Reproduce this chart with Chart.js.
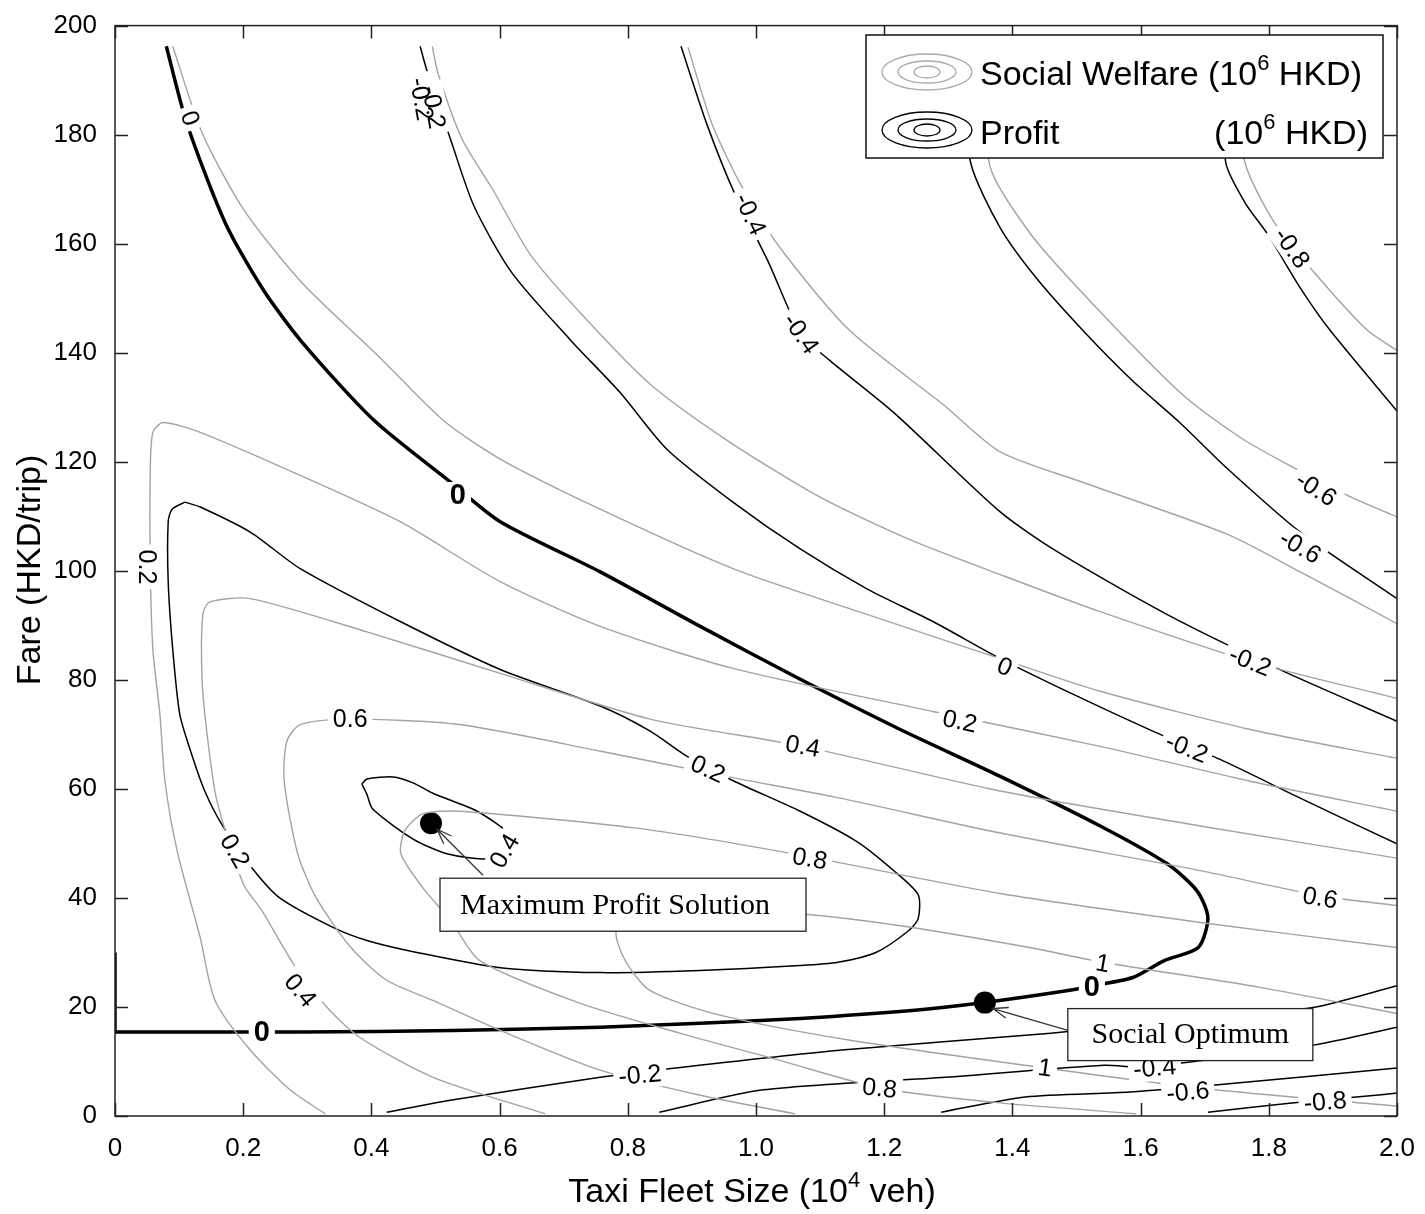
<!DOCTYPE html>
<html>
<head>
<meta charset="utf-8">
<script src="https://cdn.jsdelivr.net/npm/chart.js@4/dist/chart.umd.min.js"></script>
<style>
  body { margin: 0; background: #fff; }
  canvas { display: block; }
</style>
</head>
<body>
<canvas id="contourChart" width="1425" height="1214"></canvas>
<script>
// contour traces: [fleet size (10^4 veh), fare (HKD/trip)]

// profit contours (black)
const profitZero = [[0.080,196.2],[0.112,182.1],[0.172,163.8],[0.231,151.6],[0.292,141.9],[0.404,127.6],[0.523,116.3],[0.601,109.0],[0.757,99.8],[0.913,89.8],[1.069,80.1],[1.225,70.9],[1.381,62.3],[1.537,53.2],[1.641,46.3],[1.688,41.3],[1.705,36.4],[1.690,30.9],[1.637,28.5],[1.588,25.4],[1.526,23.9],[1.487,23.0],[1.356,20.8],[1.248,19.4],[1.069,17.9],[0.913,17.0],[0.757,16.3],[0.527,15.7],[0.289,15.4],[0.0,15.4]];
const profitZeroEdge = [[0.0,15.4],[0.0,30.0]];
const profitPos02 = [[0.109,112.6],[0.133,111.7],[0.211,107.1],[0.289,100.4],[0.445,90.7],[0.601,81.9],[0.757,75.2],[0.835,70.6],[0.892,66.0],[0.966,61.4],[1.069,55.9],[1.158,50.3],[1.217,44.8],[1.253,40.6],[1.253,36.2],[1.236,33.8],[1.187,30.0],[1.128,28.2],[1.069,27.6],[0.913,26.7],[0.757,26.3],[0.601,27.2],[0.471,30.0],[0.393,32.2],[0.340,34.6],[0.257,40.0],[0.215,45.3],[0.168,53.2],[0.140,59.6],[0.118,66.9],[0.101,73.7],[0.090,85.7],[0.083,98.0],[0.083,109.0],[0.089,111.3],[0.109,112.6]];
const profitPos04 = [[0.385,60.9],[0.393,61.8],[0.434,62.2],[0.465,61.1],[0.496,59.2],[0.565,55.9],[0.616,51.7],[0.624,49.5],[0.580,47.2],[0.518,48.1],[0.465,50.8],[0.402,56.3],[0.393,59.0],[0.385,60.9]];
const profitNeg02 = [[0.476,196.2],[0.488,191.2],[0.523,179.3],[0.560,166.9],[0.619,154.7],[0.710,142.4],[0.788,132.7],[0.861,122.3],[0.964,112.6],[1.069,104.0],[1.173,96.7],[1.276,90.7],[1.381,83.9],[1.501,77.0],[1.619,70.6],[1.724,65.4],[1.849,58.3],[2.0,49.9]];
const profitNeg04 = [[0.883,196.2],[0.924,181.7],[0.967,169.1],[1.019,156.7],[1.070,143.5],[1.115,138.6],[1.218,128.7],[1.381,110.8],[1.470,103.5],[1.641,92.0],[1.813,82.1],[2.0,72.4]];
const profitNeg06 = [[1.315,196.2],[1.335,174.8],[1.381,162.9],[1.438,153.6],[1.513,143.7],[1.587,134.9],[1.661,127.2],[1.733,119.0],[1.849,107.1],[2.0,94.9]];
const profitNeg08 = [[1.721,196.2],[1.733,174.8],[1.763,167.5],[1.799,161.6],[1.849,151.9],[1.895,144.2],[2.0,129.3]];
const profitLowNeg02 = [[0.424,0.7],[0.523,2.9],[0.757,7.1],[0.889,9.0],[1.134,12.1],[1.460,15.2],[1.705,18.1],[1.869,19.9],[2.0,23.9]];
const profitLowNeg04 = [[0.849,0.7],[1.011,4.8],[1.296,7.1],[1.543,9.3],[1.607,9.0],[1.869,13.0],[2.0,16.3]];
const profitLowNeg06 = [[1.289,0.7],[1.420,3.5],[1.583,4.4],[1.746,6.0],[2.0,8.8]];
const profitLowNeg08 = [[1.705,0.7],[1.836,2.4],[1.967,3.8],[2.0,4.2]];

// social welfare contours (gray)
const welfareZero = [[0.090,196.2],[0.136,180.3],[0.201,166.2],[0.292,152.8],[0.410,139.5],[0.512,127.6],[0.601,120.5],[0.757,111.3],[0.964,100.4],[1.173,92.0],[1.381,83.9],[1.537,77.9],[1.771,70.9],[2.0,65.6]];
const welfareNeg02 = [[0.495,196.2],[0.504,191.2],[0.541,179.3],[0.590,169.8],[0.649,157.8],[0.733,146.4],[0.835,134.2],[0.959,123.6],[1.100,113.5],[1.240,105.7],[1.381,99.3],[1.537,92.5],[1.771,83.4],[2.0,76.6]];
const welfareNeg04 = [[0.894,196.0],[0.931,182.1],[0.975,171.1],[1.034,159.8],[1.145,144.2],[1.292,130.5],[1.381,121.8],[1.513,116.1],[1.733,106.8],[1.849,99.8],[2.0,90.3]];
const welfareNeg06 = [[1.353,196.2],[1.365,174.2],[1.427,162.0],[1.513,150.5],[1.660,132.9],[1.755,124.5],[1.828,119.6],[1.925,113.7],[2.0,109.9]];
const welfareNeg08 = [[1.736,196.2],[1.763,174.8],[1.807,164.2],[1.874,154.3],[1.953,144.2],[2.0,140.4]];
const welfarePos02 = [[0.328,0.4],[0.273,4.8],[0.211,12.1],[0.156,21.2],[0.133,32.7],[0.097,48.6],[0.078,61.4],[0.070,73.7],[0.059,85.7],[0.055,101.6],[0.055,118.1],[0.059,125.4],[0.075,127.2],[0.133,125.4],[0.289,117.5],[0.445,109.0],[0.601,98.0],[0.757,89.8],[0.964,82.1],[1.276,74.2],[1.537,67.8],[1.771,61.4],[2.0,55.9]];
const welfarePos04 = [[0.671,0.4],[0.496,7.1],[0.382,14.4],[0.331,19.9],[0.278,28.0],[0.229,37.7],[0.200,42.6],[0.159,57.8],[0.145,68.7],[0.136,79.7],[0.137,92.0],[0.148,94.3],[0.211,94.9],[0.393,88.8],[0.601,81.2],[0.835,72.8],[1.073,67.8],[1.381,59.6],[1.693,53.2],[2.0,47.3]];
const welfarePos06 = [[1.061,0.4],[0.913,3.8],[0.757,8.4],[0.601,15.7],[0.496,21.2],[0.424,24.9],[0.368,30.9],[0.314,40.0],[0.285,48.1],[0.264,61.4],[0.268,68.7],[0.289,71.8],[0.363,72.8],[0.537,71.8],[0.758,66.9],[0.953,62.3],[1.131,58.3],[1.381,51.9],[1.693,45.0],[1.880,40.4],[2.0,38.6]];
const welfarePos08 = [[1.593,0.4],[1.381,2.4],[1.195,5.1],[1.037,10.2],[0.881,15.2],[0.725,20.7],[0.569,28.5],[0.524,35.8],[0.480,41.9],[0.446,48.1],[0.452,52.3],[0.480,55.4],[0.537,55.9],[0.814,52.8],[1.048,48.3],[1.381,40.8],[1.693,35.5],[2.0,30.9]];
const welfarePos10 = [[2.0,18.8],[1.786,23.6],[1.541,28.2],[1.427,30.9],[1.225,34.9],[1.069,37.1],[0.913,38.0],[0.819,36.9],[0.782,34.0],[0.796,28.5],[0.835,23.0],[0.944,18.5],[1.147,13.9],[1.451,8.8],[1.693,5.1],[2.0,1.8]];

// marked solutions
const maxProfitPoint = [[0.493,53.7]];
const socialOptimumPoint = [[1.357,20.8]];

// contour labels: [text, x, y, angle in degrees, bold]
const contourLabels = [
  ['0', 0.117, 183.0, 70, false],
  ['-0.2', 0.478, 186.5, 80, false],
  ['-0.2', 0.497, 185.0, 80, false],
  ['-0.4', 0.991, 165.4, 65, false],
  ['-0.4', 1.070, 143.5, 55, false],
  ['-0.8', 1.836, 159.2, 55, false],
  ['-0.6', 1.874, 115.0, 33, false],
  ['-0.6', 1.849, 104.4, 30, false],
  ['-0.2', 1.771, 83.4, 22, false],
  ['-0.2', 1.672, 67.5, 22, false],
  ['0', 1.388, 82.4, 22, false],
  ['0.2', 1.318, 72.4, 12, false],
  ['0.4', 1.073, 67.8, 10, false],
  ['0.2', 0.925, 63.6, 25, false],
  ['0.6', 0.367, 72.8, 0, false],
  ['0.8', 1.084, 47.2, 10, false],
  ['0.6', 1.880, 40.0, 10, false],
  ['1', 1.541, 28.0, 10, false],
  ['1', 1.451, 8.8, 8, false],
  ['0.2', 0.050, 100.7, 90, false],
  ['0.2', 0.187, 48.6, 60, false],
  ['0.4', 0.289, 23.0, 50, false],
  ['0.4', 0.608, 48.6, -60, false],
  ['0.8', 1.193, 5.1, 6, false],
  ['-0.2', 0.819, 7.5, -5, false],
  ['-0.4', 1.622, 8.8, -5, false],
  ['-0.6', 1.674, 4.4, -5, false],
  ['-0.8', 1.888, 2.6, -5, false],
  ['0', 0.535, 113.9, 0, true],
  ['0', 0.229, 15.4, 0, true],
  ['0', 1.524, 23.6, 0, true]
];

const xTicks = [0, 0.2, 0.4, 0.6, 0.8, 1.0, 1.2, 1.4, 1.6, 1.8, 2.0];
const yTicks = [0, 20, 40, 60, 80, 100, 120, 140, 160, 180, 200];

const SANS = '"Liberation Sans", Arial, sans-serif';
const SERIF = '"Liberation Serif", "Times New Roman", serif';
const GRAY = '#a3a3a3';

function toPts(arr) {
    return arr.map(p => ({ x: p[0], y: p[1] }));
}

function contourSet(arr, color, width, tension) {
    return {
        data: toPts(arr),
        showLine: true,
        borderColor: color,
        borderWidth: width,
        pointRadius: 0,
        tension: tension,
        fill: false
    };
}

const welfareLines = [welfareZero, welfareNeg02, welfareNeg04, welfareNeg06, welfareNeg08,
    welfarePos02, welfarePos04, welfarePos06, welfarePos08, welfarePos10];
const profitLines = [profitPos02, profitPos04, profitNeg02, profitNeg04, profitNeg06, profitNeg08,
    profitLowNeg02, profitLowNeg04, profitLowNeg06, profitLowNeg08];

const datasets = [];
welfareLines.forEach(l => datasets.push(contourSet(l, GRAY, 1.4, 0.25)));
profitLines.forEach(l => datasets.push(contourSet(l, '#000', 1.5, 0.25)));
datasets.push(contourSet(profitZero, '#000', 3.5, 0.25));
datasets.push(contourSet(profitZeroEdge, '#000', 3.5, 0));
datasets.push({ data: toPts(maxProfitPoint), pointRadius: 11, pointBackgroundColor: '#000', pointBorderWidth: 0 });
datasets.push({ data: toPts(socialOptimumPoint), pointRadius: 11, pointBackgroundColor: '#000', pointBorderWidth: 0 });

// text with a superscript piece, parts = [[text, isSup], ...]
function drawRich(ctx, parts, x, y, size, align) {
    const supSize = Math.round(size * 0.66);
    let total = 0;
    parts.forEach(p => {
        ctx.font = (p[1] ? supSize : size) + 'px ' + SANS;
        total += ctx.measureText(p[0]).width;
    });
    let cx = align === 'center' ? x - total / 2 : (align === 'right' ? x - total : x);
    ctx.textAlign = 'left';
    ctx.textBaseline = 'alphabetic';
    parts.forEach(p => {
        ctx.font = (p[1] ? supSize : size) + 'px ' + SANS;
        ctx.fillText(p[0], cx, p[1] ? y - size * 0.45 : y);
        cx += ctx.measureText(p[0]).width;
    });
}

function drawArrow(ctx, x1, y1, x2, y2) {
    ctx.strokeStyle = '#333';
    ctx.lineWidth = 1.3;
    ctx.beginPath();
    ctx.moveTo(x1, y1);
    ctx.lineTo(x2, y2);
    const a = Math.atan2(y2 - y1, x2 - x1);
    ctx.moveTo(x2 - 16 * Math.cos(a - 0.35), y2 - 16 * Math.sin(a - 0.35));
    ctx.lineTo(x2, y2);
    ctx.lineTo(x2 - 16 * Math.cos(a + 0.35), y2 - 16 * Math.sin(a + 0.35));
    ctx.stroke();
}

function drawNote(ctx, text, left, top, w, h, shift) {
    ctx.fillStyle = '#fff';
    ctx.fillRect(left, top, w, h);
    ctx.strokeStyle = '#222';
    ctx.lineWidth = 1.3;
    ctx.strokeRect(left, top, w, h);
    ctx.fillStyle = '#000';
    ctx.font = '30px ' + SERIF;
    ctx.textAlign = 'center';
    ctx.textBaseline = 'middle';
    ctx.fillText(text, left + w / 2 + shift, top + h / 2 + 1);
}

function drawIcon(ctx, cx, cy, color) {
    ctx.strokeStyle = color;
    ctx.lineWidth = 1.3;
    [[45, 18], [29, 11], [13, 6]].forEach(r => {
        ctx.beginPath();
        ctx.ellipse(cx, cy, r[0], r[1], 0, 0, Math.PI * 2);
        ctx.stroke();
    });
}

const overlay = {
    id: 'overlay',
    afterDatasetsDraw(chart) {
        const { ctx, chartArea: a, scales: { x, y } } = chart;
        ctx.save();

        // contour labels: white gaps first, then the text
        const placed = contourLabels.map(l => {
            const font = (l[4] ? 'bold 29px ' : '25px ') + SANS;
            ctx.font = font;
            return {
                text: l[0], font: font, rot: l[3] * Math.PI / 180,
                px: x.getPixelForValue(l[1]), py: y.getPixelForValue(l[2]),
                w: ctx.measureText(l[0]).width
            };
        });
        placed.forEach(p => {
            ctx.save();
            ctx.translate(p.px, p.py);
            ctx.rotate(p.rot);
            ctx.fillStyle = '#fff';
            ctx.fillRect(-p.w / 2 - 5, -13, p.w + 10, 26);
            ctx.restore();
        });
        placed.forEach(p => {
            ctx.save();
            ctx.translate(p.px, p.py);
            ctx.rotate(p.rot);
            ctx.font = p.font;
            ctx.fillStyle = '#000';
            ctx.textAlign = 'center';
            ctx.textBaseline = 'middle';
            ctx.fillText(p.text, 0, 1);
            ctx.restore();
        });

        // frame and inward ticks
        ctx.strokeStyle = '#222';
        ctx.lineWidth = 1.5;
        ctx.strokeRect(a.left, a.top, a.right - a.left, a.bottom - a.top);
        ctx.beginPath();
        xTicks.forEach(v => {
            const px = Math.round(x.getPixelForValue(v)) + 0.5;
            ctx.moveTo(px, a.bottom); ctx.lineTo(px, a.bottom - 13);
            ctx.moveTo(px, a.top); ctx.lineTo(px, a.top + 13);
        });
        yTicks.forEach(v => {
            const py = Math.round(y.getPixelForValue(v)) + 0.5;
            ctx.moveTo(a.left, py); ctx.lineTo(a.left + 13, py);
            ctx.moveTo(a.right, py); ctx.lineTo(a.right - 13, py);
        });
        ctx.stroke();

        // annotations
        const mpx = x.getPixelForValue(maxProfitPoint[0][0]);
        const mpy = y.getPixelForValue(maxProfitPoint[0][1]);
        drawArrow(ctx, mpx + 52, mpy + 52, mpx + 6, mpy + 6);
        drawNote(ctx, 'Maximum Profit Solution', mpx + 9, mpy + 55, 366, 53, -8);

        const sox = x.getPixelForValue(socialOptimumPoint[0][0]);
        const soy = y.getPixelForValue(socialOptimumPoint[0][1]);
        drawArrow(ctx, sox + 84, soy + 28, sox + 8, soy + 6);
        drawNote(ctx, 'Social Optimum', sox + 83, soy + 6, 245, 52, 0);

        // legend
        const lx = 866, ly = 35, lw = 517, lh = 123;
        ctx.fillStyle = '#fff';
        ctx.fillRect(lx, ly, lw, lh);
        ctx.strokeStyle = '#111';
        ctx.lineWidth = 1.5;
        ctx.strokeRect(lx, ly, lw, lh);
        drawIcon(ctx, lx + 61, ly + 37, '#aaa');
        drawIcon(ctx, lx + 61, ly + 95, '#000');
        ctx.fillStyle = '#000';
        drawRich(ctx, [['Social Welfare (10', false], ['6', true], [' HKD)', false]], lx + 114, ly + 50, 34, 'left');
        drawRich(ctx, [['Profit', false]], lx + 114, ly + 109, 34, 'left');
        drawRich(ctx, [['(10', false], ['6', true], [' HKD)', false]], lx + 502, ly + 109, 34, 'right');

        // axis titles
        drawRich(ctx, [['Taxi Fleet Size (10', false], ['4', true], [' veh)', false]], 752, 1202, 34, 'center');
        ctx.save();
        ctx.translate(40, 570);
        ctx.rotate(-Math.PI / 2);
        drawRich(ctx, [['Fare (HKD/trip)', false]], 0, 0, 34, 'center');
        ctx.restore();

        ctx.restore();
    }
};

new Chart(document.getElementById('contourChart').getContext('2d'), {
    type: 'scatter',
    data: { datasets: datasets },
    options: {
        responsive: false,
        animation: false,
        devicePixelRatio: 1,
        layout: { padding: { left: 0, top: 22, right: 28, bottom: 0 } },
        plugins: {
            legend: { display: false },
            tooltip: { enabled: false }
        },
        scales: {
            x: {
                type: 'linear',
                min: 0,
                max: 2,
                afterFit: s => { s.height = 98; },
                afterBuildTicks: s => { s.ticks = xTicks.map(v => ({ value: v })); },
                ticks: {
                    color: '#000',
                    font: { size: 26, family: SANS },
                    padding: 9,
                    maxRotation: 0,
                    callback: v => v === 0 ? '0' : v.toFixed(1)
                },
                grid: { display: false },
                border: { display: false }
            },
            y: {
                type: 'linear',
                min: 0,
                max: 200,
                afterFit: s => { s.width = 115; },
                afterBuildTicks: s => { s.ticks = yTicks.map(v => ({ value: v })); },
                ticks: {
                    color: '#000',
                    font: { size: 26, family: SANS },
                    padding: 10
                },
                grid: { display: false },
                border: { display: false }
            }
        }
    },
    plugins: [overlay]
});
</script>
</body>
</html>
